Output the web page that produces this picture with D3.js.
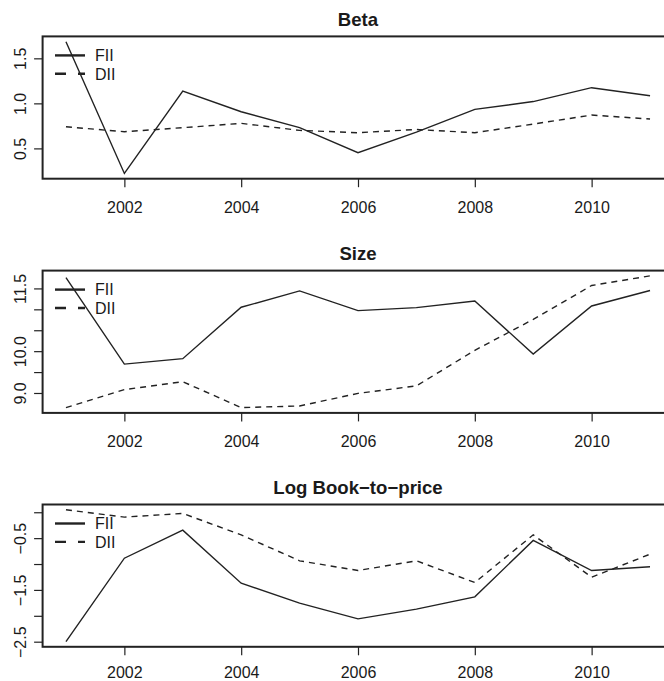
<!DOCTYPE html>
<html>
<head>
<meta charset="utf-8">
<script src="https://cdn.jsdelivr.net/npm/d3@7"></script>
<style>
  html, body { margin: 0; padding: 0; background: #fff; }
  svg { display: block; }
  text { font-family: "Liberation Sans", Arial, Helvetica, sans-serif; fill: #1a1a1a; }
</style>
</head>
<body>
<div id="chart"></div>
<script>
// ---- data ----
const years = [2001, 2002, 2003, 2004, 2005, 2006, 2007, 2008, 2009, 2010, 2011];
const seriesNames = ["FII", "DII"];

const betaFII = [1.685, 0.222, 1.137, 0.907, 0.73, 0.452, 0.68, 0.933, 1.02, 1.174, 1.085];
const betaDII = [0.74, 0.685, 0.73, 0.778, 0.70, 0.674, 0.71, 0.674, 0.77, 0.87, 0.826];

const sizeFII = [11.757, 9.69, 9.82, 11.05, 11.44, 10.97, 11.04, 11.2, 9.93, 11.08, 11.45];
const sizeDII = [8.65, 9.08, 9.27, 8.65, 8.69, 8.99, 9.17, 10.02, 10.76, 11.57, 11.80];

const btpFII = [-2.497, -0.887, -0.345, -1.37, -1.756, -2.06, -1.872, -1.634, -0.545, -1.125, -1.054];
const btpDII = [0.048, -0.094, -0.023, -0.436, -0.938, -1.125, -0.938, -1.357, -0.436, -1.254, -0.81];

const xTicks = [2002, 2004, 2006, 2008, 2010];

const betaTicks = [0.5, 1.0, 1.5];
const betaLabels = [0.5, 1.0, 1.5];
const sizeTicks = [9.0, 9.5, 10.0, 10.5, 11.0, 11.5];
const sizeLabels = [9.0, 10.0, 11.5];
const btpTicks = [-2.5, -2.0, -1.5, -1.0, -0.5, 0.0];
const btpLabels = [-2.5, -1.5, -0.5];

const titles = ["Beta", "Size", "Log Book\u2212to\u2212price"];

const panels = [
  { title: titles[0], fii: betaFII, dii: betaDII, ticks: betaTicks, labels: betaLabels },
  { title: titles[1], fii: sizeFII, dii: sizeDII, ticks: sizeTicks, labels: sizeLabels },
  { title: titles[2], fii: btpFII, dii: btpDII, ticks: btpTicks, labels: btpLabels }
];

// ---- layout ----
const W = 664, H = 681;
const boxLeft = 42.6, boxRight = 673.4;
const panelTops = [36.4, 270.6, 504.5];
const panelH = 142.3;
const tickLen = 8.5;
const dataDash = "6,5";
const xLabelOffsets = [34, 34, 31];

const svg = d3.select("#chart").append("svg")
  .attr("width", W).attr("height", H);

const xPad = (d3.max(years) - d3.min(years)) * 0.04;
const x = d3.scaleLinear()
  .domain([d3.min(years) - xPad, d3.max(years) + xPad])
  .range([boxLeft, boxRight]);

const fmt = d3.format(".1f");

panels.forEach((p, i) => {
  const top = panelTops[i], bottom = top + panelH;
  const all = p.fii.concat(p.dii);
  const lo = d3.min(all), hi = d3.max(all);
  const pad = (hi - lo) * 0.04;
  const y = d3.scaleLinear().domain([lo - pad, hi + pad]).range([bottom, top]);

  const g = svg.append("g");

  // title
  g.append("text")
    .attr("x", (boxLeft + boxRight) / 2)
    .attr("y", top - 10.5)
    .attr("text-anchor", "middle")
    .style("font-size", "18.6px")
    .style("font-weight", "bold")
    .text(p.title);

  // lines
  const line = d3.line().x((d, j) => x(years[j])).y(d => y(d));
  g.append("path").datum(p.fii)
    .attr("d", line).attr("fill", "none")
    .attr("stroke", "#222").attr("stroke-width", 1.4);
  g.append("path").datum(p.dii)
    .attr("d", line).attr("fill", "none")
    .attr("stroke", "#222").attr("stroke-width", 1.4)
    .attr("stroke-dasharray", dataDash);

  // box
  g.append("rect")
    .attr("x", boxLeft).attr("y", top)
    .attr("width", boxRight - boxLeft).attr("height", panelH)
    .attr("fill", "none").attr("stroke", "#222").attr("stroke-width", 2);

  // x axis
  const xAxis = d3.axisBottom(x).tickValues(xTicks).tickSize(tickLen)
    .tickPadding(0).tickFormat(d3.format("d"));
  const gx = g.append("g").attr("transform", `translate(0,${bottom})`).call(xAxis);
  gx.select(".domain").remove();
  gx.selectAll(".tick line").attr("stroke", "#222").attr("stroke-width", 1.2);
  gx.selectAll(".tick text")
    .attr("y", xLabelOffsets[i]).attr("dy", null)
    .style("font-size", "16px").attr("fill", "#1a1a1a")
    .style("font-family", '"Liberation Sans", Arial, Helvetica, sans-serif');

  // y axis
  const yAxis = d3.axisLeft(y).tickValues(p.ticks).tickSize(tickLen)
    .tickFormat(d => p.labels.some(v => Math.abs(v - d) < 1e-9) ? fmt(d) : "");
  const gy = g.append("g").attr("transform", `translate(${boxLeft},0)`).call(yAxis);
  gy.select(".domain").remove();
  gy.selectAll(".tick line").attr("stroke", "#222").attr("stroke-width", 1.2);
  gy.selectAll(".tick text")
    .attr("x", null).attr("dy", null)
    .attr("text-anchor", "middle")
    .attr("transform", "translate(-17,0) rotate(-90)")
    .style("font-size", "16px").attr("fill", "#1a1a1a")
    .style("font-family", '"Liberation Sans", Arial, Helvetica, sans-serif');

  // legend
  const lg = g.append("g");
  seriesNames.forEach((name, k) => {
    const cy = top + 19 + k * 18.4;
    lg.append("line")
      .attr("x1", boxLeft + 12.4).attr("x2", boxLeft + 42.4)
      .attr("y1", cy).attr("y2", cy)
      .attr("stroke", "#222").attr("stroke-width", 2.4)
      .attr("stroke-dasharray", k === 1 ? "11,12" : null);
    lg.append("text")
      .attr("x", boxLeft + 52.4).attr("y", cy + 5.8)
      .style("font-size", "16px")
      .text(name);
  });
});
</script>
</body>
</html>
